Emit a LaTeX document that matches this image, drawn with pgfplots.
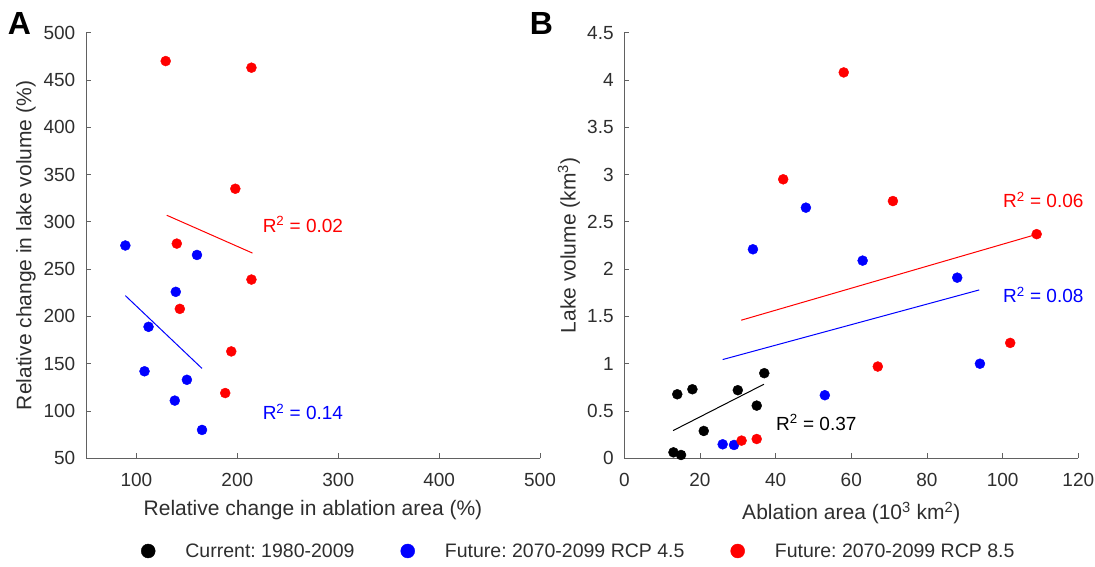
\documentclass[border=0pt]{standalone}
\usepackage{pgfplots}
\pgfplotsset{compat=1.18}
\usepackage{fontspec}
\setmainfont{Liberation Sans}
\frenchspacing
\definecolor{axgray}{gray}{0.38}
\definecolor{txtgray}{gray}{0.18}
\begin{document}
\begin{tikzpicture}
\useasboundingbox (0,0) rectangle (1095pt,567pt);
\pgfplotsset{
 every axis/.append style={
  scale only axis, width=454pt, height=425.6pt,
  axis lines*=left, axis line style={axgray, line width=0.9pt, -},
  tick align=inside, major tick length=5pt, tick style={axgray, line width=0.9pt},
  /pgf/number format/assume math mode=true,
  tick label style={font=\fontsize{19}{22}\selectfont, text=txtgray, inner sep=0pt},
  xticklabel style={yshift=-15pt},
  yticklabel style={xshift=-10.5pt},
  label style={font=\fontsize{21}{25}\selectfont, text=txtgray},
  clip=false,
  anchor=south west,
 },
 dot/.style={only marks, mark=*, mark size=5pt, mark options={draw=none}},
 fit/.style={no marks, line width=1pt, forget plot},
}
\node[font=\fontsize{32}{38}\bfseries\selectfont, inner sep=0pt] at (19.5pt,543pt) {A};
\node[font=\fontsize{32}{38}\bfseries\selectfont, inner sep=0pt] at (541.5pt,543pt) {B};
% Panel A
\begin{axis}[at={(86pt,108.7pt)},
  xmin=50, xmax=500, ymin=50, ymax=500,
  xtick={100,200,300,400,500}, ytick={50,100,150,200,250,300,350,400,450,500},
  xlabel={Relative change in ablation area (\%)},
  ylabel={Relative change in lake volume (\%)},
  xlabel style={at={(axis description cs:0.5,-0.1215)}, anchor=center},
  ylabel style={at={(axis description cs:-0.1322,0.5)}, anchor=center},
]
\addplot[fit, blue] coordinates {(89,222) (165,145)};
\addplot[fit, red] coordinates {(130,307) (215,267)};
\addplot[dot, blue] coordinates {(89,275) (160,265) (139,226) (112,189) (108,142) (150,133) (138,111) (165,80)};
\addplot[dot, red] coordinates {(129,470) (214,463) (198,335) (140,277) (214,239) (143,208) (194,163) (188,119)};
\node[anchor=base west, inner sep=0pt, red, font=\fontsize{19}{22}\selectfont] at (axis cs:225,289) {R\textsuperscript{2} = 0.02};
\node[anchor=base west, inner sep=0pt, blue, font=\fontsize{19}{22}\selectfont] at (axis cs:225,90.5) {R\textsuperscript{2} = 0.14};
\end{axis}
% Panel B
\begin{axis}[at={(624.3pt,108.7pt)},
  xmin=0, xmax=120, ymin=0, ymax=4.5,
  xtick={0,20,40,60,80,100,120}, ytick={0,0.5,1,1.5,2,2.5,3,3.5,4,4.5},
  xlabel={Ablation area (10\textsuperscript{3} km\textsuperscript{2})},
  ylabel={Lake volume (km\textsuperscript{3})},
  xlabel style={at={(axis description cs:0.5,-0.1285)}, anchor=center},
  ylabel style={at={(axis description cs:-0.1218,0.5)}, anchor=center},
  legend columns=3,
  legend cell align=left,
  legend image code/.code={\fill[#1] (0pt,0pt) circle (7pt);},
  legend style={at={(axis description cs:-1.0645,-0.2178)}, anchor=west,
    draw=none, fill=none, inner sep=0pt, outer sep=0pt,
    font=\fontsize{19.5}{23}\selectfont, text=txtgray,
    nodes={inner sep=0pt},
    /tikz/every odd column/.append style={column sep=30pt},
    /tikz/every even column/.append style={column sep=46pt}},
]
\addplot[fit, black] coordinates {(12.9,0.293) (36.9,0.783)};
\addplot[fit, blue] coordinates {(26,1.044) (93.8,1.78)};
\addplot[fit, red] coordinates {(30.9,1.46) (108.9,2.367)};
\addplot[dot, black] coordinates {(13,0.063) (15,0.035) (14,0.677) (18,0.73) (21,0.289) (30,0.72) (35,0.557) (37,0.9)};
\addlegendentry{Current: 1980-2009}
\addplot[dot, blue] coordinates {(26,0.148) (29,0.141) (53,0.667) (34,2.21) (48,2.65) (63,2.09) (88,1.91) (94,1.0)};
\addlegendentry{Future: 2070-2099 RCP 4.5}
\addplot[dot, red] coordinates {(31,0.187) (35,0.204) (42,2.95) (58,4.08) (67,0.97) (71,2.72) (102,1.22) (109,2.37)};
\addlegendentry{Future: 2070-2099 RCP 8.5}
\node[anchor=base west, inner sep=0pt, red, font=\fontsize{19}{22}\selectfont] at (axis cs:100.1,2.654) {R\textsuperscript{2} = 0.06};
\node[anchor=base west, inner sep=0pt, blue, font=\fontsize{19}{22}\selectfont] at (axis cs:100.1,1.645) {R\textsuperscript{2} = 0.08};
\node[anchor=base west, inner sep=0pt, black, font=\fontsize{19}{22}\selectfont] at (axis cs:40.1,0.299) {R\textsuperscript{2} = 0.37};
\end{axis}
\end{tikzpicture}
\end{document}
